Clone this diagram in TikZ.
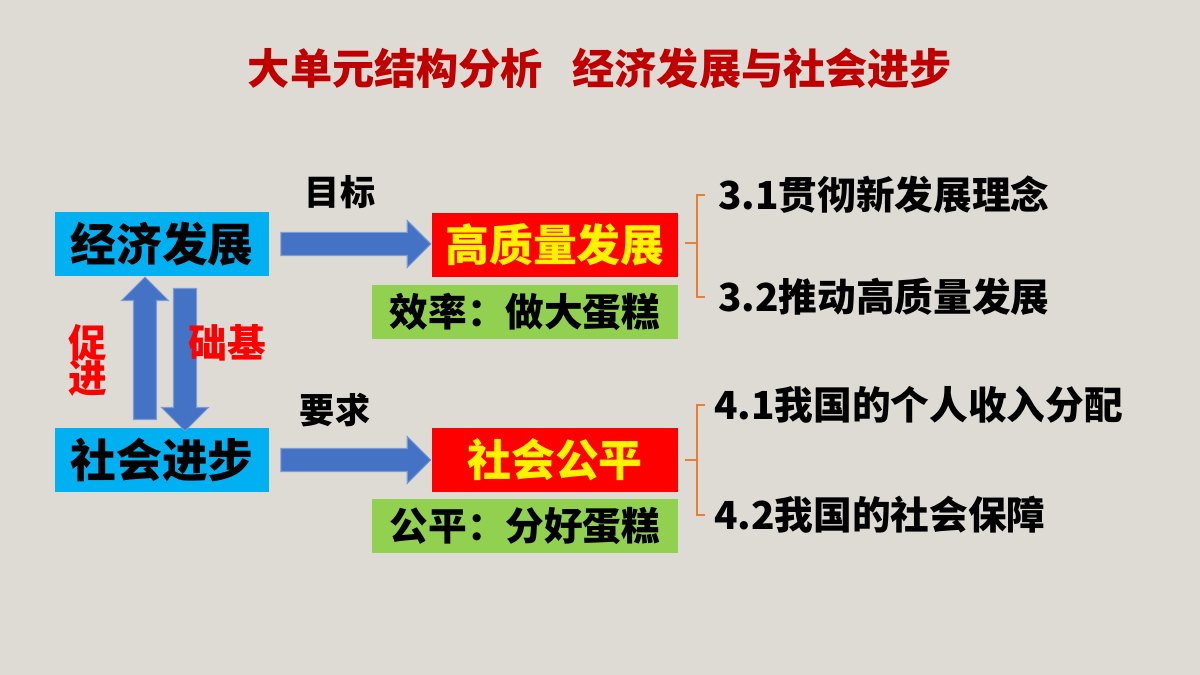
\documentclass[tikz,border=0pt]{standalone}
\usepackage{fontspec}
\setmainfont{Noto Sans CJK SC}
\usetikzlibrary{shapes.arrows}
\definecolor{bgc}{RGB}{222,219,212}
\definecolor{titlered}{RGB}{192,0,0}
\definecolor{boxblue}{RGB}{0,176,240}
\definecolor{arrblue}{RGB}{68,114,196}
\definecolor{boxgreen}{RGB}{146,208,80}
\definecolor{braceor}{RGB}{237,125,49}
\tikzset{
  mainbox/.style={fill=boxblue,minimum width=4.3cm,minimum height=1.3cm,font=\fontsize{26}{28}\selectfont\bfseries},
  goalbox/.style={fill=red,text=yellow,minimum width=4.92cm,minimum height=1.28cm,font=\fontsize{25}{27}\selectfont\bfseries},
  cakebox/.style={fill=boxgreen,minimum width=6.12cm,minimum height=1.1cm,font=\fontsize{22}{24}\selectfont\bfseries},
  blockarr/.style={single arrow,fill=arrblue,draw=arrblue!70!white,line width=0.6pt,minimum height=3cm,inner sep=0.22cm,single arrow head extend=0.24cm,single arrow head indent=0pt},
  item/.style={anchor=west,font=\fontsize{22}{24}\selectfont\bfseries},
  brace/.style={braceor,line width=1pt}
}
\begin{document}
\begin{tikzpicture}[x=0.02cm,y=-0.02cm]
  \fill[bgc] (0,0) rectangle (1200,675);
  \node[text=titlered,font=\fontsize{24}{26}\selectfont\bfseries] (title) at (600,68) {大单元结构分析\hspace{0.7em}经济发展与社会进步};

  %left boxes
  \node[mainbox] (econ) at (162,244) {经济发展};
  \node[mainbox] (soc) at (162,460) {社会进步};

  %goal boxes
  \node[goalbox] (high) at (555,245) {高质量发展};
  \node[cakebox] (eff) at (525,312) {效率：做大蛋糕};
  \node[goalbox] (fair) at (555,460) {社会公平};
  \node[cakebox] (fair2) at (525,526) {公平：分好蛋糕};

  %block arrows
  \node[blockarr,minimum height=3cm] (a1) at (350,244) {};
  \node[blockarr,minimum height=3cm] (a2) at (350,460) {};
  \node[blockarr,minimum height=2.85cm,shape border rotate=90] (up) at (145,354) {};
  \node[blockarr,minimum height=2.85cm,shape border rotate=270] (down) at (185,354) {};

  \node[font=\fontsize{20}{22}\selectfont\bfseries] (goal) at (340,192) {目标};
  \node[font=\fontsize{20}{22}\selectfont\bfseries] (req) at (335,410) {要求};
  \node[text=red,font=\fontsize{22}{24}\selectfont\bfseries,align=center] (prom) at (88,360) {促\\[-4pt]进};
  \node[text=red,font=\fontsize{22}{24}\selectfont\bfseries] (base) at (227,343) {础基};

  %braces
  \draw[brace] (705,195) -- (697,195) -- (697,243) -- (685,243) (697,243) -- (697,297) -- (705,297);
  \draw[brace] (705,405) -- (697,405) -- (697,460) -- (685,460) (697,460) -- (697,515) -- (705,515);

  \node[item] (i31) at (712,195) {3.1贯彻新发展理念};
  \node[item] (i32) at (712,297) {3.2推动高质量发展};
  \node[item] (i41) at (708,405) {4.1我国的个人收入分配};
  \node[item] (i42) at (708,515) {4.2我国的社会保障};
\end{tikzpicture}
\end{document}
